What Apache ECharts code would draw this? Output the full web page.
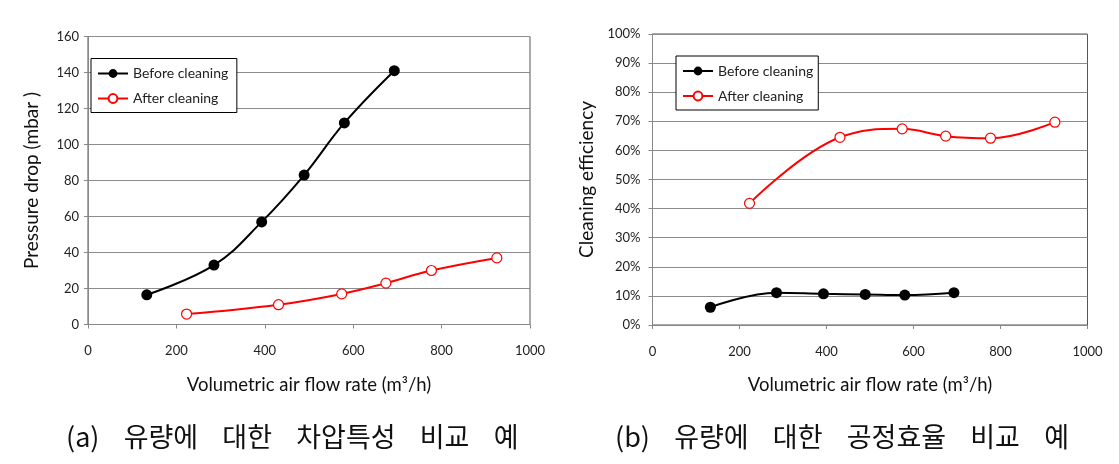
<!DOCTYPE html>
<html>
<head>
<meta charset="utf-8">
<script src="https://cdn.jsdelivr.net/npm/echarts@6/dist/echarts.min.js"></script>
<style>
html,body{margin:0;padding:0;background:#fff;}
#main{width:1119px;height:464px;}
</style>
</head>
<body>
<div id="main"></div>
<script>
// ---- data ----
const beforeFlow = [133, 285, 393, 489, 580, 693];
const afterFlow = [223, 431, 574, 674, 777, 925];
const beforePressure = [16.5, 33, 57, 83, 112, 141];
const afterPressure = [5.8, 11, 17, 23, 30, 37];
const beforeEfficiency = [6.1, 11.1, 10.7, 10.5, 10.3, 11.1];
const afterEfficiency = [41.8, 64.5, 67.4, 64.9, 64.2, 69.7];
const seriesNames = ['Before cleaning', 'After cleaning'];
const xAxisTitle = 'Volumetric air flow rate (m³/h)';
const leftYTitle = 'Pressure drop (mbar )';
const rightYTitle = 'Cleaning efficiency';
const captionA = '(a)    유량에    대한    차압특성    비교    예';
const captionB = '(b)    유량에    대한    공정효율    비교    예';

const pairs = (xs, ys) => xs.map((x, i) => [x, ys[i]]);
const FONT = 'Lato, "Open Sans", sans-serif';
const RED = '#ff0000';

const chart = echarts.init(document.getElementById('main'), null, {renderer: 'canvas'});

function xAxisCfg(gridIndex) {
  return {
    gridIndex, type: 'value', min: 0, max: 1000, interval: 200,
    name: xAxisTitle, nameLocation: 'middle', nameGap: 51,
    nameTextStyle: {fontFamily: FONT, fontSize: 18.5, color: '#111'},
    axisLine: {show: true, lineStyle: {color: '#888', width: 1}},
    axisTick: {show: true, length: 4, inside: false, lineStyle: {color: '#888'}},
    axisLabel: {fontFamily: FONT, fontSize: 13, color: '#222', margin: 20, formatter: v => String(v)},
    splitLine: {show: false}
  };
}

function yAxisCfg(gridIndex, max, interval, name, fmt, gap, lm) {
  return {
    gridIndex, type: 'value', min: 0, max, interval,
    name, nameLocation: 'middle', nameGap: gap, nameRotate: 90,
    nameTextStyle: {fontFamily: FONT, fontSize: 19, color: '#111'},
    axisLine: {show: true, lineStyle: {color: '#888', width: 1}},
    axisTick: {show: true, length: 4, inside: false, lineStyle: {color: '#888'}},
    axisLabel: {fontFamily: FONT, fontSize: 13, color: '#222', margin: lm, formatter: fmt},
    splitLine: {show: true, lineStyle: {color: '#8c8c8c', width: 1}}
  };
}

function lineSeries(name, xi, yi, data, color, filled) {
  return {
    name, type: 'line', xAxisIndex: xi, yAxisIndex: yi, data,
    smooth: 0.4,
    symbol: 'circle',
    symbolSize: filled ? 11 : 10,
    showSymbol: true,
    lineStyle: {color, width: 2},
    itemStyle: filled ? {color, borderColor: color, borderWidth: 0} : {color: '#fff', borderColor: color, borderWidth: 1.2},
    emphasis: {disabled: true},
    animation: false
  };
}

function legendCfg(left, top) {
  return {
    left, top, orient: 'vertical',
    itemWidth: 30, itemHeight: 11, itemGap: 11,
    padding: [8, 5, 7, 6],
    backgroundColor: '#fff',
    borderColor: '#000', borderWidth: 1,
    textStyle: {fontFamily: FONT, fontSize: 14, color: '#222'},
    selectedMode: false
  };
}

const option = {
  backgroundColor: '#fff',
  animation: false,
  grid: [
    {left: 88, top: 36.5, width: 442, height: 288, show: true, borderColor: '#555', borderWidth: 1, backgroundColor: 'transparent'},
    {left: 652.5, top: 34, width: 435, height: 291, show: true, borderColor: '#555', borderWidth: 1, backgroundColor: 'transparent'}
  ],
  xAxis: [xAxisCfg(0), xAxisCfg(1)],
  yAxis: [
    yAxisCfg(0, 160, 20, leftYTitle, '{value}', 47, 9),
    yAxisCfg(1, 100, 10, rightYTitle, '{value}%', 56, 12)
  ],
  legend: [
    Object.assign(legendCfg(91, 58.5), {data: [seriesNames[0] + ' ', seriesNames[1] + ' ']}),
    Object.assign(legendCfg(676, 56), {data: [seriesNames[0], seriesNames[1]]})
  ],
  series: [
    lineSeries(seriesNames[0] + ' ', 0, 0, pairs(beforeFlow, beforePressure), '#000', true),
    lineSeries(seriesNames[1] + ' ', 0, 0, pairs(afterFlow, afterPressure), RED, false),
    lineSeries(seriesNames[0], 1, 1, pairs(beforeFlow, beforeEfficiency), '#000', true),
    lineSeries(seriesNames[1], 1, 1, pairs(afterFlow, afterEfficiency), RED, false)
  ],
  graphic: [
    {type: 'text', top: 423, left: 66, style: {text: captionA, fontFamily: '"Noto Sans CJK KR", sans-serif', fontSize: 27, fill: '#111'}},
    {type: 'text', top: 423, left: 615, style: {text: captionB, fontFamily: '"Noto Sans CJK KR", sans-serif', fontSize: 27, fill: '#111'}}
  ]
};

chart.setOption(option);
</script>
</body>
</html>
